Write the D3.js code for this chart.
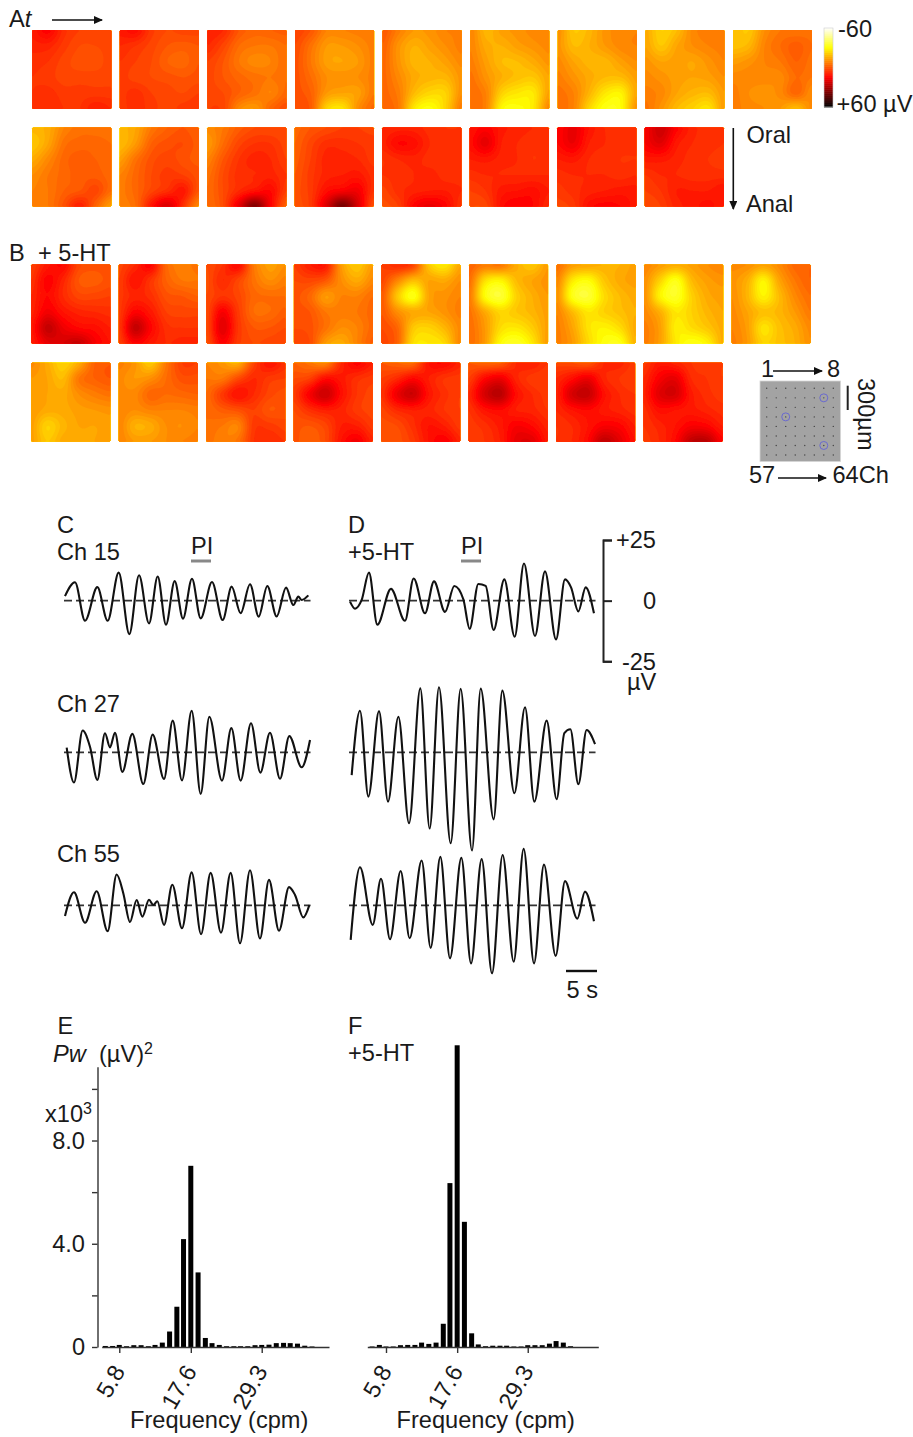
<!DOCTYPE html>
<html>
<head>
<meta charset="utf-8">
<script src="https://cdn.jsdelivr.net/npm/d3@7"></script>
<style>
body { margin: 0; background: #fff; }
text { font-family: "Liberation Sans", Arial, sans-serif; font-size: 23.6px; fill: #1a1a1a; }
.axis path, .axis line { stroke: #333; stroke-width: 1.4; }
</style>
</head>
<body>
<div id="chart"></div>
<script>
// Potential maps, uV at 6x6 points (top row first)
var heatA1 = [
  [11,15,7,4,4,4, 9,9,5,2,2,3, 7,6,3,1,1,3, 6,5,3,3,3,3, 6,7,5,5,5,5, 6,8,6,6,10,8],
  [11,13,5,2,3,3, 8,6,3,0,-1,0, 6,4,2,-2,-3,0, 5,3,2,1,0,1, 5,7,4,3,2,4, 5,7,5,3,5,6],
  [10,8,0,-3,-2,-1, 8,3,-4,-6,-6,-4, 4,0,-6,-9,-8,-4, 3,0,-3,-5,-6,-4, 3,2,-2,-5,-8,-3, 4,3,-9,-12,-3,2],
  [4,0,-8,-8,-7,-6, 2,-5,-12,-12,-10,-7, 1,-6,-13,-14,-12,-7, 1,-4,-10,-11,-10,-7, 1,-2,-12,-14,-13,-6, 2,-1,-22,-25,-10,-3],
  [0,-7,-12,-11,-8,-8, -2,-11,-16,-13,-10,-7, -3,-11,-17,-16,-13,-9, -3,-9,-15,-17,-17,-11, -3,-7,-18,-23,-22,-10, -3,-6,-26,-31,-22,-6],
  [-8,-17,-13,-11,-9,-8, -8,-15,-16,-13,-11,-9, -7,-13,-18,-18,-15,-11, -5,-11,-16,-19,-20,-14, -4,-8,-22,-26,-26,-13, -4,-8,-29,-31,-26,-8],
  [-10,-20,-17,-11,-9,-8, -11,-18,-16,-12,-9,-8, -9,-14,-17,-17,-13,-10, -7,-11,-15,-18,-18,-13, -5,-8,-17,-26,-28,-14, -5,-8,-23,-32,-30,-10],
  [-15,-22,-18,-9,-7,-6, -14,-20,-14,-10,-8,-7, -11,-14,-13,-14,-11,-8, -9,-11,-13,-14,-13,-10, -7,-9,-14,-17,-18,-12, -5,-11,-18,-22,-25,-12],
  [-18,-20,-10,-6,-6,-5, -19,-17,-8,-4,-1,-4, -13,-11,-8,-6,-2,-5, -9,-9,-9,-9,-4,-6, -7,-10,-11,-9,-3,-10, -7,-9,-10,-12,-18,-9]
]
var heatA2 = [
  [-17,-15,-8,-5,-5,-5, -20,-14,-5,-3,-3,-4, -15,-9,-3,-1,-2,-3, -10,-6,-3,-1,-1,-3, -8,-6,-2,0,3,-4, -8,-6,1,10,-2,-13],
  [-17,-14,-6,-2,0,-2, -18,-12,-2,1,2,-1, -13,-5,1,3,1,-1, -8,-3,2,5,4,1, -7,-3,3,7,11,0, -7,-4,12,22,7,-9],
  [-9,-6,-1,2,2,2, -12,-4,3,6,6,3, -8,0,6,9,8,4, -5,2,7,8,9,6, -4,2,8,12,14,4, -4,2,20,38,16,-2],
  [-3,0,2,4,4,3, -2,3,7,7,6,5, -1,4,9,9,8,5, 0,5,9,10,11,7, 1,5,13,16,17,6, 1,5,22,40,22,1],
  [8,9,9,7,6,6, 9,14,13,8,7,7, 6,8,9,7,7,6, 6,7,8,9,7,7, 3,7,9,10,10,8, 1,4,15,19,15,6],
  [12,15,11,9,8,8, 13,19,10,8,7,7, 10,11,9,8,6,7, 7,8,8,8,8,8, 4,6,11,12,13,10, 2,3,13,16,14,8],
  [14,19,12,8,8,8, 14,18,10,8,7,7, 10,11,8,7,6,6, 7,8,8,8,7,8, 5,7,9,10,11,11, 3,5,13,15,14,11],
  [16,24,15,9,7,6, 16,20,11,8,7,6, 11,11,9,7,6,5, 6,8,8,7,7,7, 4,6,10,10,10,12, 2,4,9,11,13,10]
]
var heatB1 = [
  [4,11,14,3,1,2, 6,15,9,0,-1,1, 8,14,8,3,3,4, 9,17,12,9,8,7, 11,25,18,14,13,10, 10,19,22,25,17,12],
  [3,8,15,-3,-7,-5, 4,12,6,-2,-6,-6, 5,9,7,1,0,-2, 5,15,11,4,3,3, 5,25,15,7,6,6, 4,15,11,8,9,9],
  [2,6,14,-6,-13,-10, 1,8,3,-5,-10,-7, 2,6,3,-3,-4,-4, 2,16,5,-4,-4,-1, 2,20,6,0,0,2, 1,15,5,2,3,4],
  [4,10,11,-12,-20,-12, 2,3,0,-10,-15,-9, 1,-3,-12,-8,-8,-4, 1,0,-6,-7,-6,-3, 2,1,-5,-10,-8,-3, 2,2,-12,-15,-8,-1],
  [4,8,4,-20,-26,-14, 3,-8,-18,-14,-15,-10, 0,-20,-32,-14,-11,-8, 0,-10,-15,-14,-11,-7, 2,-3,-20,-22,-17,-9, 3,-2,-24,-26,-23,-8],
  [-2,-6,-5,-15,-20,-12, -4,-24,-28,-18,-14,-11, -6,-30,-36,-22,-16,-12, -5,-15,-23,-20,-17,-13, -4,-12,-24,-26,-21,-13, -4,-12,-30,-34,-26,-12],
  [-4,-12,-14,-16,-16,-13, -8,-26,-30,-20,-15,-13, -10,-32,-36,-24,-18,-15, -8,-18,-26,-22,-19,-16, -7,-14,-25,-28,-24,-15, -7,-12,-23,-31,-32,-16],
  [-8,-12,-15,-13,-10,-8, -10,-22,-32,-18,-13,-11, -10,-28,-34,-22,-15,-13, -9,-16,-26,-22,-17,-14, -7,-13,-27,-24,-20,-15, -7,-13,-26,-32,-28,-15],
  [-9,-10,-13,-9,-3,-2, -11,-16,-28,-14,-6,-2, -10,-17,-28,-18,-9,-4, -9,-14,-19,-17,-12,-6, -8,-13,-25,-19,-15,-9, -7,-12,-22,-19,-16,-10]
]
var heatB2 = [
  [-9,-15,-22,-15,-2,0, -12,-14,-18,-6,-2,0, -12,-14,-15,-10,-7,-5, -12,-15,-15,-13,-12,-11, -13,-22,-17,-14,-14,-13, -13,-20,-15,-15,-14,-13],
  [-7,-11,-20,-6,4,4, -9,-12,-10,-4,1,1, -9,-9,-3,-4,-3,-2, -8,-10,-8,-8,-8,-7, -8,-16,-15,-10,-10,-8, -8,-12,-12,-10,-8,-7],
  [-8,-11,-15,3,12,7, -6,-6,2,8,5,4, -4,5,12,8,3,1, -4,-1,1,4,0,1, -4,-6,-8,5,5,3, -4,-8,-5,6,8,6],
  [-2,-5,-8,8,15,10, 2,4,13,11,7,5, 5,16,24,13,6,3, 2,7,10,9,5,3, 1,0,3,10,10,5, 1,-2,2,12,17,9],
  [0,-2,-3,12,14,9, 4,8,14,10,6,5, 6,18,24,12,7,4, 3,8,10,9,6,4, 1,2,7,12,10,5, 1,1,5,12,16,9],
  [0,-2,-1,8,10,6, 4,14,18,9,5,4, 8,22,27,13,8,5, 6,12,14,10,9,6, 5,7,11,16,14,9, 5,6,10,19,20,11],
  [3,2,0,8,9,5, 8,13,18,9,6,4, 9,22,25,13,8,6, 8,12,14,11,9,7, 6,8,12,16,15,10, 6,8,14,26,20,12],
  [5,11,9,6,5,4, 8,16,19,8,6,4, 9,20,22,11,7,5, 7,13,12,11,9,7, 6,9,12,16,15,10, 5,8,14,26,27,15]
]

// Traces: turning points of each recording, seconds and uV
var c15T = [0,1.61,3.23,5.22,6.88,8.66,10.38,11.94,13.55,14.95,16.29,17.69,19.03,20.48,21.88,23.71,25.43,26.88,28.33,29.84,31.24,32.63,34.14,35.65,36.83,37.63,38.17,39.25]
var c15V = [1.9,7.6,-8.3,5.6,-8.3,11.6,-13.8,10.5,-9.4,10,-9.9,8.1,-7.4,9.1,-7.3,7.7,-8,5.8,-5.2,6.8,-6.6,6.1,-6.5,5.4,-1.8,1.7,.3,2.2]
var c27T = [.27,1.45,2.85,4.03,5.22,6.45,7.26,8.06,9.25,10.86,12.63,14.14,15.97,17.37,18.87,20.43,21.88,23.28,25.32,26.83,28.33,30,31.51,33.06,34.68,36.18,38.17,39.52]
var c27V = [1.9,-12.5,9,2.3,-11.4,7.9,2,8.1,-8.1,7.6,-13.1,7.3,-11,13.1,-11.6,17.2,-17.2,14.7,-11.7,10,-11.7,12,-8.4,8.1,-10.9,6.7,-6.2,5.1]
var c55T = [0,1.45,3.23,5.11,6.88,8.33,9.41,10.48,11.56,12.47,13.55,14.25,14.89,15.97,17.31,18.87,20.43,21.94,23.49,25.16,26.72,28.23,29.84,31.45,32.9,34.52,36.13,37.1,38.44,39.41]
var c55V = [-4.4,5.4,-7.2,5.8,-10.7,12.7,4.9,-6.9,2.2,-4.7,2.3,.1,1.7,-8.1,8.5,-9.5,13.6,-11.9,13.4,-11.3,13.4,-15.7,14.5,-13.7,10.5,-10.5,7.5,4.3,-5,.1]
var d15T = [0,.81,1.88,3.06,4.41,6.61,8.87,10.27,12.1,13.55,15.32,16.83,18.28,19.3,20.7,21.88,23.17,24.89,26.56,28.06,29.84,31.45,33.23,34.68,35.65,36.83,38.01,39.35]
var d15V = [-.4,-3.3,.3,11.6,-9.9,4.9,-8.3,9.2,-5.2,8,-4.6,6.1,.6,-11.6,6.9,6.1,-12.1,8.8,-14.9,15.4,-14.6,12.1,-16,8.8,5.5,-4.4,5.5,-5.2]
var d27T = [.27,1.61,2.96,4.68,6.13,7.8,9.52,11.34,12.85,14.35,16.24,17.85,19.68,21.08,23.17,24.57,26.51,28.23,29.73,31.72,33.33,34.57,35.54,36.83,38.17,39.52]
var d27V = [-9.4,17.2,-18.3,17,-20.4,14.7,-29.3,26.4,-31.5,26.9,-37.6,26.2,-40.6,26.3,-27.7,25.5,-16.9,18.6,-20.4,13.1,-19.4,7.9,9.5,-13.2,9.2,3.4]
var d55T = [.11,1.61,3.66,5,6.45,8.17,9.62,11.56,13.01,14.57,16.13,17.96,19.52,21.24,22.9,24.62,26.4,28.01,29.68,31.29,33.17,34.68,36.67,37.9,39.35]
var d55V = [-14.3,15.7,-8.1,11,-14,14.2,-13.6,18.5,-17.6,20,-21.9,19.6,-24,19.1,-28.1,20.8,-23.3,23.3,-24,16.8,-20.9,10,-5.5,5.65,-6.6]

// Power spectra, x10^3 (uV)^2
var binCpm = [3.5,4.7,5.8,7.0,8.2,9.4,10.6,11.7,12.9,14.1,15.3,16.4,17.6,18.8,20.0,21.1,22.3,23.5,24.7,25.8,27.0,28.2,29.3,30.5,31.7,32.9,34.0,35.2,36.4,37.6]
var powerE = [.04,.04,.08,.03,.07,.07,.03,.08,.17,.6,1.56,4.18,7.02,2.89,.35,.15,.08,.03,.03,.03,.03,.07,.08,.09,.15,.16,.15,.13,.05,.02]
var powerF = [.02,.08,.02,.02,.07,.08,.08,.17,.12,.17,.9,6.35,11.69,4.85,.53,.1,.03,.05,.05,.05,.02,.02,.07,.07,.07,.13,.23,.17,.03,0]
var freqTicks = [5.8,17.6,29.3]

var recordedChannels = [15,27,55]

var width = 913, height = 1437

var svg = d3.select("#chart").append("svg")
  .attr("width", width)
  .attr("height", height)

var defs = svg.append("defs")
defs.append("marker")
  .attr("id", "head")
  .attr("markerUnits", "userSpaceOnUse")
  .attr("markerWidth", 9).attr("markerHeight", 8)
  .attr("refX", 8).attr("refY", 4)
  .attr("orient", "auto")
  .append("path").attr("d", "M0,0L9,4L0,8Z").attr("fill", "#111")
defs.append("filter")
  .attr("id", "soft")
  .attr("x", "-5%").attr("y", "-5%").attr("width", "110%").attr("height", "110%")
  .append("feGaussianBlur").attr("stdDeviation", 0.6)

function label(x, y, s, g) {
  return (g || svg).append("text").attr("x", x).attr("y", y).text(s)
}

function arrow(x1, y1, x2, y2) {
  svg.append("line")
    .attr("x1", x1).attr("y1", y1).attr("x2", x2).attr("y2", y2)
    .attr("stroke", "#111").attr("stroke-width", 1.6)
    .attr("marker-end", "url(#head)")
}

// - - - - - - - - - - - - - - - - - - - - - - - - - - - - - - - - -
// Colour maps
var color = d3.scaleLinear()
  .domain([-60, -30, 15, 60])
  .range(["#ffffff", "#ffff00", "#ff0000", "#000000"])
  .clamp(true)

var gridN = 6, fineN = 44, panelSize = 79, bandStep = 2

function catmull(a, b, c, d, t) {
  return 0.5 * (2*b + (c-a)*t + (2*a-5*b+4*c-d)*t*t + (3*b-a-3*c+d)*t*t*t)
}

// smooth the 6x6 readings so they can be contoured
function fineGrid(vals) {
  var at = function(r, c) {
    r = Math.max(0, Math.min(gridN-1, r))
    c = Math.max(0, Math.min(gridN-1, c))
    return vals[r*gridN + c]
  }
  var out = new Array(fineN*fineN)
  for (var j = 0; j < fineN; j++) {
    var v = (j + 0.5) / fineN * (gridN-1), r = Math.floor(v), tv = v - r
    for (var i = 0; i < fineN; i++) {
      var u = (i + 0.5) / fineN * (gridN-1), c = Math.floor(u), tu = u - c
      var rows = [-1,0,1,2].map(function(dr) {
        return catmull(at(r+dr,c-1), at(r+dr,c), at(r+dr,c+1), at(r+dr,c+2), tu)
      })
      out[j*fineN + i] = catmull(rows[0], rows[1], rows[2], rows[3], tv)
    }
  }
  return out
}

var contours = d3.contours()
  .size([fineN, fineN])
  .thresholds(d3.range(-60, 60, bandStep))
var geo = d3.geoPath()

function drawRow(panels, xFirst, xLast, yTop) {
  var x = d3.scaleLinear().domain([0, 8]).range([xFirst, xLast])
  var g = svg.append("g").selectAll("g")
    .data(panels).enter().append("g")
    .attr("transform", function(d, i) { return "translate(" + x(i) + "," + yTop + ")" })
  g.each(function(d) {
    var p = d3.select(this)
    var inner = p.append("g")
      .attr("filter", "url(#soft)")
      .append("g")
      .attr("transform", "scale(" + panelSize/fineN + ")")
    inner.selectAll("path")
      .data(contours(fineGrid(d)).filter(function(c) { return c.coordinates.length }))
      .enter().append("path")
      .attr("d", geo)
      .attr("fill", function(c) { return color(c.value + bandStep/2) })
  })
}

drawRow(heatA1, 32.3, 733, 30)
drawRow(heatA2, 32.3, 732.3, 127.6)
drawRow(heatB1, 31.3, 731.7, 264.5)
drawRow(heatB2, 31.3, 731, 362.7)

label(9, 27, "A").append("tspan").attr("font-style", "italic").text("t")
arrow(52, 20, 102, 20)
label(9, 261, "B")
label(38, 261, "+ 5-HT")
arrow(733.3, 128, 733.3, 209)
label(746.5, 143, "Oral")
label(746, 212, "Anal")

// Colour bar
var barY = d3.scaleLinear().domain([-60, 60]).range([28, 107])
svg.append("g").selectAll("rect")
  .data(d3.range(-60, 60)).enter().append("rect")
  .attr("x", 824).attr("width", 9)
  .attr("y", function(d) { return barY(d) })
  .attr("height", barY(1) - barY(0) + 0.5)
  .attr("fill", function(d) { return color(d + 0.5) })
svg.append("rect").attr("x", 824).attr("y", 28).attr("width", 9).attr("height", 79)
  .attr("fill", "none").attr("stroke", "#ccc").attr("stroke-width", 0.6)
label(838, 37, "-60")
label(836.5, 112, "+60 µV")

// Electrode array inset
svg.append("rect").attr("x", 760).attr("y", 381).attr("width", 80.5).attr("height", 80.5)
  .attr("fill", "#a3a3a3").attr("stroke", "#d5d5d5").attr("stroke-width", 0.8)
var elecX = d3.scaleLinear().domain([0, 7]).range([766.7, 833.3])
var elecY = d3.scaleLinear().domain([0, 7]).range([388.3, 455])
svg.append("g").selectAll("circle")
  .data(d3.range(64)).enter().append("circle")
  .attr("cx", function(d) { return elecX(d % 8) })
  .attr("cy", function(d) { return elecY(Math.floor(d / 8)) })
  .attr("r", 0.7).attr("fill", "#444")
svg.append("g").selectAll("circle")
  .data(recordedChannels).enter().append("circle")
  .attr("cx", function(d) { return elecX((d-1) % 8) })
  .attr("cy", function(d) { return elecY(Math.floor((d-1) / 8)) })
  .attr("r", 4).attr("fill", "none").attr("stroke", "#6a6ad0").attr("stroke-width", 1)
label(761, 377, "1")
arrow(773, 371, 822, 371)
label(827, 377, "8")
label(749, 483, "57")
arrow(778, 478, 826, 478)
label(832.5, 483, "64Ch")
svg.append("line").attr("x1", 847.7).attr("x2", 847.7).attr("y1", 385.7).attr("y2", 410)
  .attr("stroke", "#222").attr("stroke-width", 2)
svg.append("text").attr("transform", "translate(858,378) rotate(90)").text("300µm")

// - - - - - - - - - - - - - - - - - - - - - - - - - - - - - - - - -
// Traces
var pxPerSec = 6.2, pxPerUv = 2.42, traceSpan = 39.6

function drawTrace(x0, zeroY, t, v) {
  var x = d3.scaleLinear().domain([0, traceSpan]).range([x0, x0 + traceSpan*pxPerSec])
  var y = d3.scaleLinear().domain([-1, 1]).range([zeroY + pxPerUv, zeroY - pxPerUv])
  svg.append("line")
    .attr("x1", x(0) - 1).attr("x2", x(traceSpan)).attr("y1", y(0)).attr("y2", y(0))
    .attr("stroke", "#333").attr("stroke-width", 1.7).attr("stroke-dasharray", "8,4")
  var line = d3.line()
    .x(function(d) { return x(d) })
    .y(function(d, i) { return y(v[i]) })
    .curve(d3.curveMonotoneX)
  svg.append("path").attr("d", line(t))
    .attr("fill", "none").attr("stroke", "#111").attr("stroke-width", 2.1)
}

drawTrace(65, 600.7, c15T, c15V)
drawTrace(65, 752.3, c27T, c27V)
drawTrace(65, 905.3, c55T, c55V)
drawTrace(350, 600.7, d15T, d15V)
drawTrace(350, 752.3, d27T, d27V)
drawTrace(350, 905.3, d55T, d55V)

label(57, 533, "C")
label(57, 560, "Ch 15")
label(57, 712, "Ch 27")
label(57, 862, "Ch 55")
label(348, 533, "D")
label(348, 560, "+5-HT")
label(191, 554, "PI")
label(461, 554, "PI")
svg.append("line").attr("x1", 191).attr("x2", 211).attr("y1", 561).attr("y2", 561).attr("stroke", "#888").attr("stroke-width", 3)
svg.append("line").attr("x1", 461).attr("x2", 481).attr("y1", 561).attr("y2", 561).attr("stroke", "#888").attr("stroke-width", 3)

// uV calibration bracket
var calY = d3.scaleLinear().domain([-25, 25]).range([661.3, 540])
var calAxis = d3.axisRight(calY)
  .tickValues([25, 0, -25])
  .tickSize(9)
  .tickSizeOuter(9)
  .tickPadding(14)
  .tickFormat(function(d) { return d > 0 ? "+" + d : d == 0 ? "0" : "-25" })
var calG = svg.append("g").attr("class", "axis").attr("transform", "translate(603,0)").call(calAxis)
calG.selectAll("path, line").style("stroke-width", 2).style("stroke", "#222")
calG.selectAll("text")
  .attr("x", 53).attr("dy", "0.33em")
  .attr("text-anchor", "end")
  .style("font-size", "23.6px").style("font-family", '"Liberation Sans"')
label(627, 690, "µV")

svg.append("line").attr("x1", 566).attr("x2", 597).attr("y1", 971).attr("y2", 971).attr("stroke", "#111").attr("stroke-width", 2.4)
label(566.5, 998, "5 s")

// - - - - - - - - - - - - - - - - - - - - - - - - - - - - - - - - -
// Spectra
var powerY = d3.scaleLinear().domain([0, 10.86]).range([1347, 1066.7])

function drawSpectrum(values, freqDomain, xRange) {
  var x = d3.scaleLinear().domain(freqDomain).range(xRange)
  svg.append("g").selectAll("rect")
    .data(values).enter().append("rect")
    .attr("x", function(d, i) { return x(binCpm[i]) - 2.5 })
    .attr("width", 5)
    .attr("y", function(d) { return powerY(d) })
    .attr("height", function(d) { return powerY(0) - powerY(d) })
    .attr("fill", "#000")
  var g = svg.append("g").attr("class", "axis")
    .attr("transform", "translate(0,1347)")
    .call(d3.axisBottom(x).tickValues(freqTicks).tickSize(6).tickSizeOuter(0).tickFormat(d3.format(".1f")))
  g.selectAll("text")
    .attr("x", null).attr("y", null).attr("dy", "0.35em")
    .attr("text-anchor", "end")
    .attr("transform", "translate(-1,20) rotate(-60)")
    .style("font-size", "23.6px").style("font-family", '"Liberation Sans"')
}

drawSpectrum(powerE, [2.9, 40.4], [101.7, 329])
drawSpectrum(powerF, [2.7, 41], [367.3, 598.3])

var powerAxis = d3.axisLeft(powerY)
  .tickValues([0, 2, 4, 6, 8, 10])
  .tickSize(5.5)
  .tickSizeOuter(0)
  .tickPadding(7)
  .tickFormat(function(d) { return d == 0 ? "0" : d == 4 ? "4.0" : d == 8 ? "8.0" : "" })
var powerG = svg.append("g").attr("class", "axis").attr("transform", "translate(97.5,0)").call(powerAxis)
powerG.selectAll("text").style("font-size", "23.6px").style("font-family", '"Liberation Sans"')

label(57.5, 1034, "E")
label(53, 1062, "Pw").attr("font-style", "italic")
var pwUnit = label(99, 1062, "(µV)")
pwUnit.append("tspan").attr("dy", -8).style("font-size", "16px").text("2")
var x103 = label(45, 1122, "x10")
x103.append("tspan").attr("dy", -8).style("font-size", "16px").text("3")
label(130, 1428, "Frequency (cpm)")
label(348, 1034, "F")
label(348, 1061, "+5-HT")
label(396.5, 1428, "Frequency (cpm)")
</script>
</body>
</html>
